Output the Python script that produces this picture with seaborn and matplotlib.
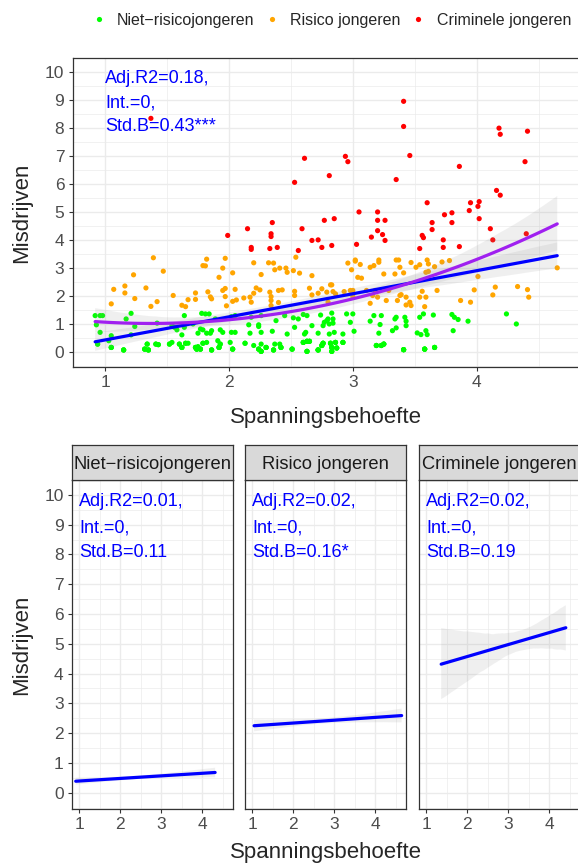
import pandas as pd
import seaborn as sns
import matplotlib.pyplot as plt
from matplotlib.ticker import MultipleLocator

sns.set_style('white')
plt.rcParams['font.family'] = ['Liberation Sans', 'DejaVu Sans']

groups = ['Niet−risicojongeren', 'Risico jongeren', 'Criminele jongeren']
colors = ['#00FF00', '#FFA500', '#FF0000']

# Niet-risicojongeren (green), visible points
niet_x = [0.92, 0.96, 0.98, 1.21, 1.17, 1.64, 1.78, 1.81, 1.84, 1.89, 2.02, 2.05, 2.18, 2.26, 2.38, 2.45,
          2.52, 2.56, 0.93, 0.96, 1.24, 1.42, 1.54, 1.56, 1.58, 1.62, 1.64, 1.71, 1.75, 1.77, 1.79, 1.82,
          1.85, 1.86, 1.93, 1.95, 2.02, 2.05, 2.16, 2.17, 2.24, 2.24, 2.26, 2.35, 2.47, 2.53, 0.94, 1.03,
          1.05, 1.15, 1.32, 1.35, 1.34, 1.41, 1.43, 1.52, 1.54, 1.60, 1.62, 1.65, 1.67, 1.73, 1.74, 1.75,
          1.77, 1.79, 1.82, 1.86, 1.91, 1.93, 1.92, 2.01, 2.03, 2.13, 2.20, 2.24, 2.26, 2.26, 2.30, 2.36,
          2.37, 2.41, 2.42, 2.51, 1.05, 1.21,
          2.60, 2.63, 2.67, 2.62, 2.61, 2.60, 2.63, 2.65, 2.63, 2.72, 2.72, 2.74, 2.76, 2.77, 2.79, 2.80,
          2.81, 2.83, 2.84, 2.84, 2.85, 2.81, 2.76, 2.75, 2.82, 2.83, 2.83, 2.86, 2.87, 2.92, 2.92, 2.95,
          2.98, 3.00, 3.01, 3.17, 3.14, 3.23, 3.22, 3.21, 3.19, 3.23, 3.25, 3.34, 3.35, 3.32, 3.35, 3.42,
          3.43, 3.43, 3.41, 3.54, 3.57, 3.52, 3.55, 3.59, 3.60, 3.65, 3.58, 3.66, 3.80, 3.82, 3.81, 3.85,
          3.93, 4.24, 4.32]
niet_y = [1.29, 1.29, 1.29, 1.37, 1.17, 1.29, 1.37, 1.35, 1.35, 1.17, 1.25, 1.29, 1.23, 1.29, 1.11, 1.29,
          1.21, 1.17, 0.96, 0.69, 0.90, 1.02, 0.93, 0.87, 0.78, 0.60, 0.87, 0.99, 0.66, 0.81, 0.78, 0.66,
          0.66, 0.75, 0.78, 0.69, 0.69, 0.69, 0.96, 0.66, 0.90, 0.96, 0.69, 0.73, 0.63, 0.87, 0.27, 0.39,
          0.15, 0.06, 0.09, 0.06, 0.27, 0.27, 0.25, 0.27, 0.33, 0.27, 0.15, 0.30, 0.30, 0.15, 0.09, 0.18,
          0.09, 0.30, 0.33, 0.06, 0.39, 0.27, 0.15, 0.33, 0.09, 0.30, 0.22, 0.09, 0.27, 0.01, 0.15, 0.06,
          0.27, 0.27, 0.15, 0.09, 0.57, 0.60,
          1.33, 1.29, 0.93, 0.69, 0.63, 0.33, 0.37, 0.37, 0.01, 0.66, 0.06, 1.31, 0.93, 1.05, 1.11, 1.17,
          0.99, 1.38, 1.17, 1.02, 0.69, 0.63, 0.30, 0.22, 0.30, 0.15, 0.01, 0.33, 0.13, 0.33, 0.63, 1.35,
          1.05, 1.35, 0.73, 1.29, 1.09, 1.29, 0.97, 0.66, 0.22, 0.22, 0.27, 1.17, 1.23, 0.75, 0.85, 1.23,
          1.09, 0.93, 0.07, 1.23, 1.35, 0.67, 0.61, 0.75, 0.61, 1.31, 0.09, 0.15, 1.33, 1.23, 0.75, 1.15,
          1.09, 1.35, 0.99]

# green points stacked on top of each other near 0 (hidden under identical marks)
niet_x_stacked = [1.05, 1.05, 1.15, 1.15, 1.32, 1.32, 1.35, 1.35, 1.62, 1.62, 1.73, 1.73, 1.74, 1.74,
                  1.77, 1.77, 1.86, 1.86, 1.92, 1.92, 2.03, 2.03, 2.24, 2.24, 2.26, 2.26, 2.30, 2.30,
                  2.36, 2.36, 2.42, 2.42, 2.51, 2.51, 0.94, 1.34, 1.41, 1.43, 1.52, 1.60, 1.65, 1.79,
                  1.93, 2.13,
                  2.60, 2.60, 2.63, 2.63, 2.65, 2.65, 2.63, 2.63, 2.72, 2.72, 2.76, 2.76, 2.75, 2.75,
                  2.82, 2.82, 2.83, 2.83, 2.83, 2.83, 2.86, 2.86, 2.87, 2.87, 2.92, 2.92, 3.19, 3.19,
                  3.23, 3.23, 3.25, 3.25, 3.41, 3.41, 3.58, 3.58, 3.66, 3.66, 2.72, 3.41, 3.58]
niet_y_stacked = [0.15, 0.15, 0.06, 0.06, 0.09, 0.09, 0.06, 0.06, 0.15, 0.15, 0.15, 0.15, 0.09, 0.09,
                  0.09, 0.09, 0.06, 0.06, 0.15, 0.15, 0.09, 0.09, 0.09, 0.09, 0.01, 0.01, 0.15, 0.15,
                  0.06, 0.06, 0.15, 0.15, 0.09, 0.09, 0.27, 0.27, 0.27, 0.25, 0.27, 0.27, 0.30, 0.30,
                  0.27, 0.30,
                  0.33, 0.33, 0.37, 0.37, 0.37, 0.37, 0.01, 0.01, 0.06, 0.06, 0.30, 0.30, 0.22, 0.22,
                  0.30, 0.30, 0.15, 0.15, 0.01, 0.01, 0.33, 0.33, 0.13, 0.13, 0.33, 0.33, 0.22, 0.22,
                  0.22, 0.22, 0.27, 0.27, 0.07, 0.07, 0.09, 0.09, 0.15, 0.15, 0.06, 0.07, 0.09]

# Risico jongeren (orange)
risico_x = [1.39, 1.23, 1.16, 1.07, 1.16, 1.05, 1.24, 1.33, 1.37, 1.42, 1.47, 1.55, 1.62, 1.65, 1.67, 1.73,
            1.73, 1.82, 1.79, 1.81, 1.83, 1.85, 1.86, 1.92, 1.95, 1.97, 1.95, 1.97, 1.97, 1.98, 2.03, 2.05,
            2.03, 2.06, 2.12, 2.17, 2.18, 2.20, 2.20, 2.22, 2.25, 2.26, 2.32, 2.36, 2.33, 2.34, 2.34, 2.34,
            2.37, 2.41, 2.40, 2.40, 2.43, 2.46, 2.47, 2.52, 2.53, 2.53, 2.54,
            2.57, 2.67, 2.65, 2.67, 2.72, 2.75, 2.79, 2.82, 2.83, 2.84, 2.86, 2.80, 2.93, 2.96, 2.99, 2.98,
            3.00, 3.00, 3.02, 3.02, 3.04, 3.06, 3.07, 3.11, 3.14, 3.14, 3.16, 3.17, 3.18, 3.20, 3.21, 3.21,
            3.25, 3.27, 3.29, 3.34, 3.35, 3.37, 3.38, 3.38, 3.39, 3.36, 3.41, 3.43, 3.43, 3.46, 3.47, 3.47,
            3.51, 3.54, 3.54, 3.56, 3.58, 3.59, 3.59, 3.60, 3.61, 3.61, 3.66, 3.68, 3.72, 3.78, 3.87, 3.95,
            3.98, 4.01, 4.13, 4.15, 4.33, 4.41, 4.42, 4.65]
risico_y = [3.36, 2.75, 2.35, 2.23, 2.10, 1.71, 1.90, 2.28, 1.62, 1.79, 2.88, 2.01, 1.66, 1.61, 1.86, 2.10,
            1.87, 3.31, 3.08, 3.07, 2.14, 1.96, 1.89, 2.66, 2.99, 3.34, 2.19, 2.26, 1.97, 1.64, 2.82, 2.23,
            1.80, 1.85, 1.92, 1.95, 1.77, 2.09, 3.18, 2.28, 2.21, 2.76, 3.18, 3.17, 2.13, 1.97, 1.83, 1.65,
            2.93, 2.99, 2.19, 1.76, 2.21, 2.99, 2.84, 2.90, 2.16, 2.01, 3.38,
            2.81, 2.72, 2.27, 2.03, 2.09, 2.25, 2.13, 2.39, 2.39, 2.15, 2.07, 1.77, 2.15, 3.17, 2.93, 2.19,
            2.19, 1.97, 3.28, 3.24, 2.66, 3.12, 2.63, 2.19, 3.02, 1.73, 2.01, 3.08, 2.19, 1.95, 3.28, 3.20,
            2.78, 1.83, 2.19, 2.78, 3.28, 3.28, 3.02, 2.01, 2.04, 1.83, 2.82, 1.95, 1.67, 1.77, 1.65, 3.19,
            3.02, 3.11, 1.95, 2.16, 1.61, 1.95, 2.84, 3.28, 3.14, 2.87, 3.04, 2.19, 3.21, 3.26, 1.83, 1.77,
            2.21, 2.69, 2.03, 2.31, 2.33, 2.22, 1.95, 3.00]

# Criminele jongeren (red)
crimi_x = [1.37, 2.61, 2.53, 2.15, 2.35, 2.59, 3.41, 3.41, 2.94, 2.96, 3.46, 2.81, 3.35, 4.18, 4.19, 4.41,
           4.39, 3.86, 4.16, 4.19, 3.60, 3.95, 4.02, 4.01, 3.94, 3.74, 3.80, 4.02, 2.77, 2.85, 3.05, 3.20,
           3.20, 3.26, 3.64, 3.80, 3.64, 4.11, 3.20, 1.99, 2.34, 2.34, 2.18, 2.18, 2.33, 2.39, 2.56, 2.67,
           2.72, 2.75, 2.83, 3.03, 3.15, 3.24, 3.26, 3.54, 3.56, 3.57, 3.73, 3.73, 3.86, 4.13, 4.40]
crimi_y = [8.35, 6.92, 6.06, 4.40, 4.62, 4.40, 8.96, 8.06, 6.99, 6.80, 7.02, 6.30, 6.16, 8.00, 7.78, 7.89,
           6.80, 6.63, 5.77, 5.60, 5.33, 5.33, 5.37, 5.20, 5.05, 4.90, 4.97, 4.76, 4.70, 4.76, 5.00, 5.00,
           4.70, 4.70, 4.62, 4.62, 4.37, 4.40, 4.33, 4.16, 4.22, 4.12, 3.73, 3.66, 3.69, 3.73, 3.62, 3.98,
           4.00, 3.73, 3.80, 3.84, 4.10, 4.19, 3.98, 3.69, 4.16, 4.08, 4.00, 3.73, 3.76, 4.00, 4.22]

all_stats = ['Adj.R2=0.18,', 'Int.=0,', 'Std.B=0.43***']
group_stats = [['Adj.R2=0.01,', 'Int.=0,', 'Std.B=0.11'],
               ['Adj.R2=0.02,', 'Int.=0,', 'Std.B=0.16*'],
               ['Adj.R2=0.02,', 'Int.=0,', 'Std.B=0.19']]

df = pd.concat([
    pd.DataFrame({'x': niet_x + niet_x_stacked, 'y': niet_y + niet_y_stacked, 'groep': groups[0]}),
    pd.DataFrame({'x': risico_x, 'y': risico_y, 'groep': groups[1]}),
    pd.DataFrame({'x': crimi_x, 'y': crimi_y, 'groep': groups[2]}),
], ignore_index=True)

W, H = 578, 863
fig = plt.figure(figsize=(W / 100, H / 100), dpi=100)

def box(l, t, r, b):
    return [l / W, 1 - b / H, (r - l) / W, (b - t) / H]

def style(ax, xlim, ylabels=True):
    ax.set_xlim(xlim)
    ax.set_ylim(-0.55, 10.5)
    ax.xaxis.set_major_locator(MultipleLocator(1))
    ax.xaxis.set_minor_locator(MultipleLocator(0.5))
    ax.yaxis.set_major_locator(MultipleLocator(1))
    ax.yaxis.set_minor_locator(MultipleLocator(0.5))
    ax.grid(which='major', color='#EBEBEB', lw=1.0)
    ax.grid(which='minor', color='#EBEBEB', lw=0.5)
    ax.set_axisbelow(True)
    ax.tick_params(which='minor', length=0)
    ax.tick_params(which='major', length=3, width=0.8, color='#333333', labelcolor='#4D4D4D',
                   labelsize=12.5, pad=3, left=ylabels, labelleft=ylabels, bottom=True)
    for s in ax.spines.values():
        s.set_color('#333333')
        s.set_linewidth(0.9)
    ax.set_xlabel('')
    ax.set_ylabel('')

def grey_band(ax):
    ax.collections[-1].set_facecolor((0.6, 0.6, 0.6, 0.4))
    ax.collections[-1].set_edgecolor('none')

def stats_text(ax, lines):
    for txt, yy in zip(lines, [9.62, 8.74, 7.9]):
        ax.text(1.0, yy, txt, color='#0000FF', fontsize=13, va='baseline', ha='left', zorder=10)

# top panel
ax = fig.add_axes(box(72.6, 58.3, 582, 367))
sns.scatterplot(data=df, x='x', y='y', hue='groep', hue_order=groups, palette=colors,
                s=14, linewidth=0, ax=ax)
sns.regplot(data=df, x='x', y='y', scatter=False, color='#0000FF', ci=95, seed=1,
            line_kws={'lw': 2.3}, ax=ax)
grey_band(ax)
sns.regplot(data=df, x='x', y='y', scatter=False, order=2, color='#A020F0', ci=95, seed=1,
            line_kws={'lw': 2.3}, ax=ax)
grey_band(ax)
style(ax, (0.738, 4.85))
stats_text(ax, all_stats)
sns.move_legend(ax, 'center right', bbox_to_anchor=(571 / W, 1 - 20 / H), bbox_transform=fig.transFigure,
                ncol=3, frameon=False, title=None, fontsize=11.5, handlelength=0.6, handletextpad=0.85,
                columnspacing=0.8, borderpad=0, borderaxespad=0, markerscale=1.0)

fig.text(326 / W, 1 - 423 / H, 'Spanningsbehoefte', ha='center', va='baseline', fontsize=16)
fig.text(22 / W, 1 - 212.5 / H, 'Misdrijven', ha='center', va='center', rotation=90, fontsize=16)

# facets
lefts = [72, 245, 419]
for i, g in enumerate(groups):
    l = lefts[i]
    fax = fig.add_axes(box(l, 480, l + 161, 809))
    sub = df[df['groep'] == g]
    sns.regplot(data=sub, x='x', y='y', scatter=False, color='#0000FF', ci=95, seed=1,
                line_kws={'lw': 2.3}, ax=fax)
    grey_band(fax)
    style(fax, (0.829, 4.756), ylabels=(i == 0))
    stats_text(fax, group_stats[i])
    sax = fig.add_axes(box(l, 445, l + 161, 480))
    sax.set_facecolor('#D9D9D9')
    sax.set_xticks([])
    sax.set_yticks([])
    for s in sax.spines.values():
        s.set_color('#333333')
        s.set_linewidth(0.9)
    sax.text(0.5, 0.45, g, ha='center', va='center', fontsize=13.2, color='#1A1A1A', transform=sax.transAxes)

fig.text(326 / W, 1 - 858 / H, 'Spanningsbehoefte', ha='center', va='baseline', fontsize=16)
fig.text(22 / W, 1 - 644.5 / H, 'Misdrijven', ha='center', va='center', rotation=90, fontsize=16)

fig.savefig('out.png', dpi=100)
